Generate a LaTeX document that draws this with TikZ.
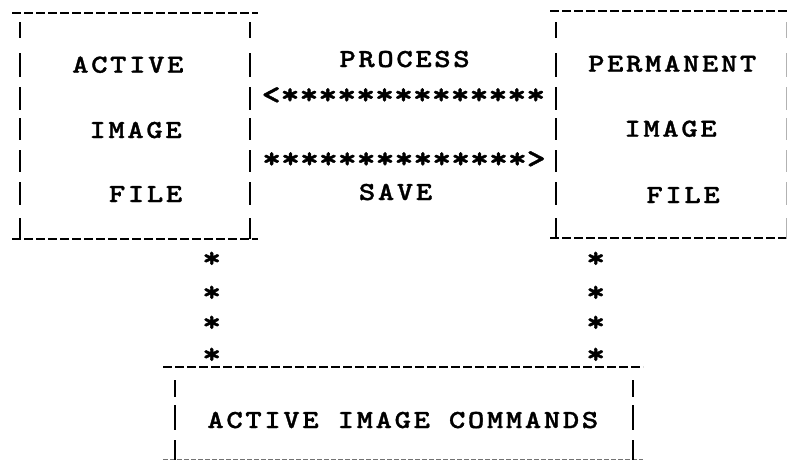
\documentclass[tikz,border=0pt]{standalone}
\usepackage{fontspec}
\newfontfamily\twfont{lmmonolt10-bold.otf}[FakeStretch=1.2,FakeBold=1.2,LetterSpace=10]
\newfontfamily\twstar{lmmonolt10-bold.otf}[FakeStretch=1.2,FakeBold=1.4]
\begin{document}
\begin{tikzpicture}[x=1pt,y=-1pt,
  hdash/.style={line width=2.4pt, dash pattern=on 9pt off 3pt},
  faint/.style={line width=1.1pt, black!55, dash pattern=on 5pt off 2pt},
  vbar/.style={line width=2.8pt},
  tw/.style={font=\twfont\fontsize{26}{26}\selectfont, inner sep=0pt, anchor=base west},
  arrowrow/.style={font=\twstar\fontsize{30}{30}\selectfont, inner sep=0pt, anchor=base west},
  starc/.style={font=\twstar\fontsize{30}{30}\selectfont, inner sep=0pt, anchor=base}]
\useasboundingbox (0,0) rectangle (787,461);
% horizontal dashed edges
\draw[hdash] (12,12.7) -- (258,12.7);
\draw[hdash] (12,239) -- (258,239);
\draw[hdash] (550,11) -- (787,11);
\draw[hdash] (550,238) -- (787,238);
\draw[hdash] (163,366.7) -- (643,366.7);
\draw[faint] (163,459.5) -- (643,459.5);
% vertical bars of the upper boxes
\foreach \x in {20,250,556}
  \foreach \a/\b in {22/38,53/77,87/110,118/140,150/172,182/205,218/239}
    \draw[vbar] (\x,\a) -- (\x,\b);
\foreach \a/\b in {22/38,53/77,87/110,118/140,150/172,182/205,218/239}
  \draw[line width=1.2pt, gray!60] (786.5,\a) -- (786.5,\b);
% vertical bars of the lower box
\foreach \x in {175,633}
  \foreach \a/\b in {380/397,405/430,440/460}
    \draw[vbar] (\x,\a) -- (\x,\b);
% texts
\node[tw] (a1) at (72,72.7) {ACTIVE};
\node[tw] (a2) at (89.2,138) {IMAGE};
\node[tw] (a3) at (108.7,202) {FILE};
\node[tw] (proc) at (339.2,67) {PROCESS};
\node[tw] (save) at (358.7,200) {SAVE};
\node[tw] (p1) at (587.9,71.7) {PERMANENT};
\node[tw] (p2) at (624.2,136.7) {IMAGE};
\node[tw] (p3) at (646.2,203) {FILE};
\node[tw] (cmd) at (207.2,428) {ACTIVE IMAGE COMMANDS};
% star arrows
\node[arrowrow] (arrL) at (261.5,104) {<**************};
\node[arrowrow] (arrR) at (262,168) {**************>};
\foreach \y [count=\i] in {254,288,318,350} {
  \node[starc] (sl\i) at (211.7,\y+13.5) {*};
  \node[starc] (sr\i) at (595.7,\y+13.5) {*};
}
\end{tikzpicture}
\end{document}
